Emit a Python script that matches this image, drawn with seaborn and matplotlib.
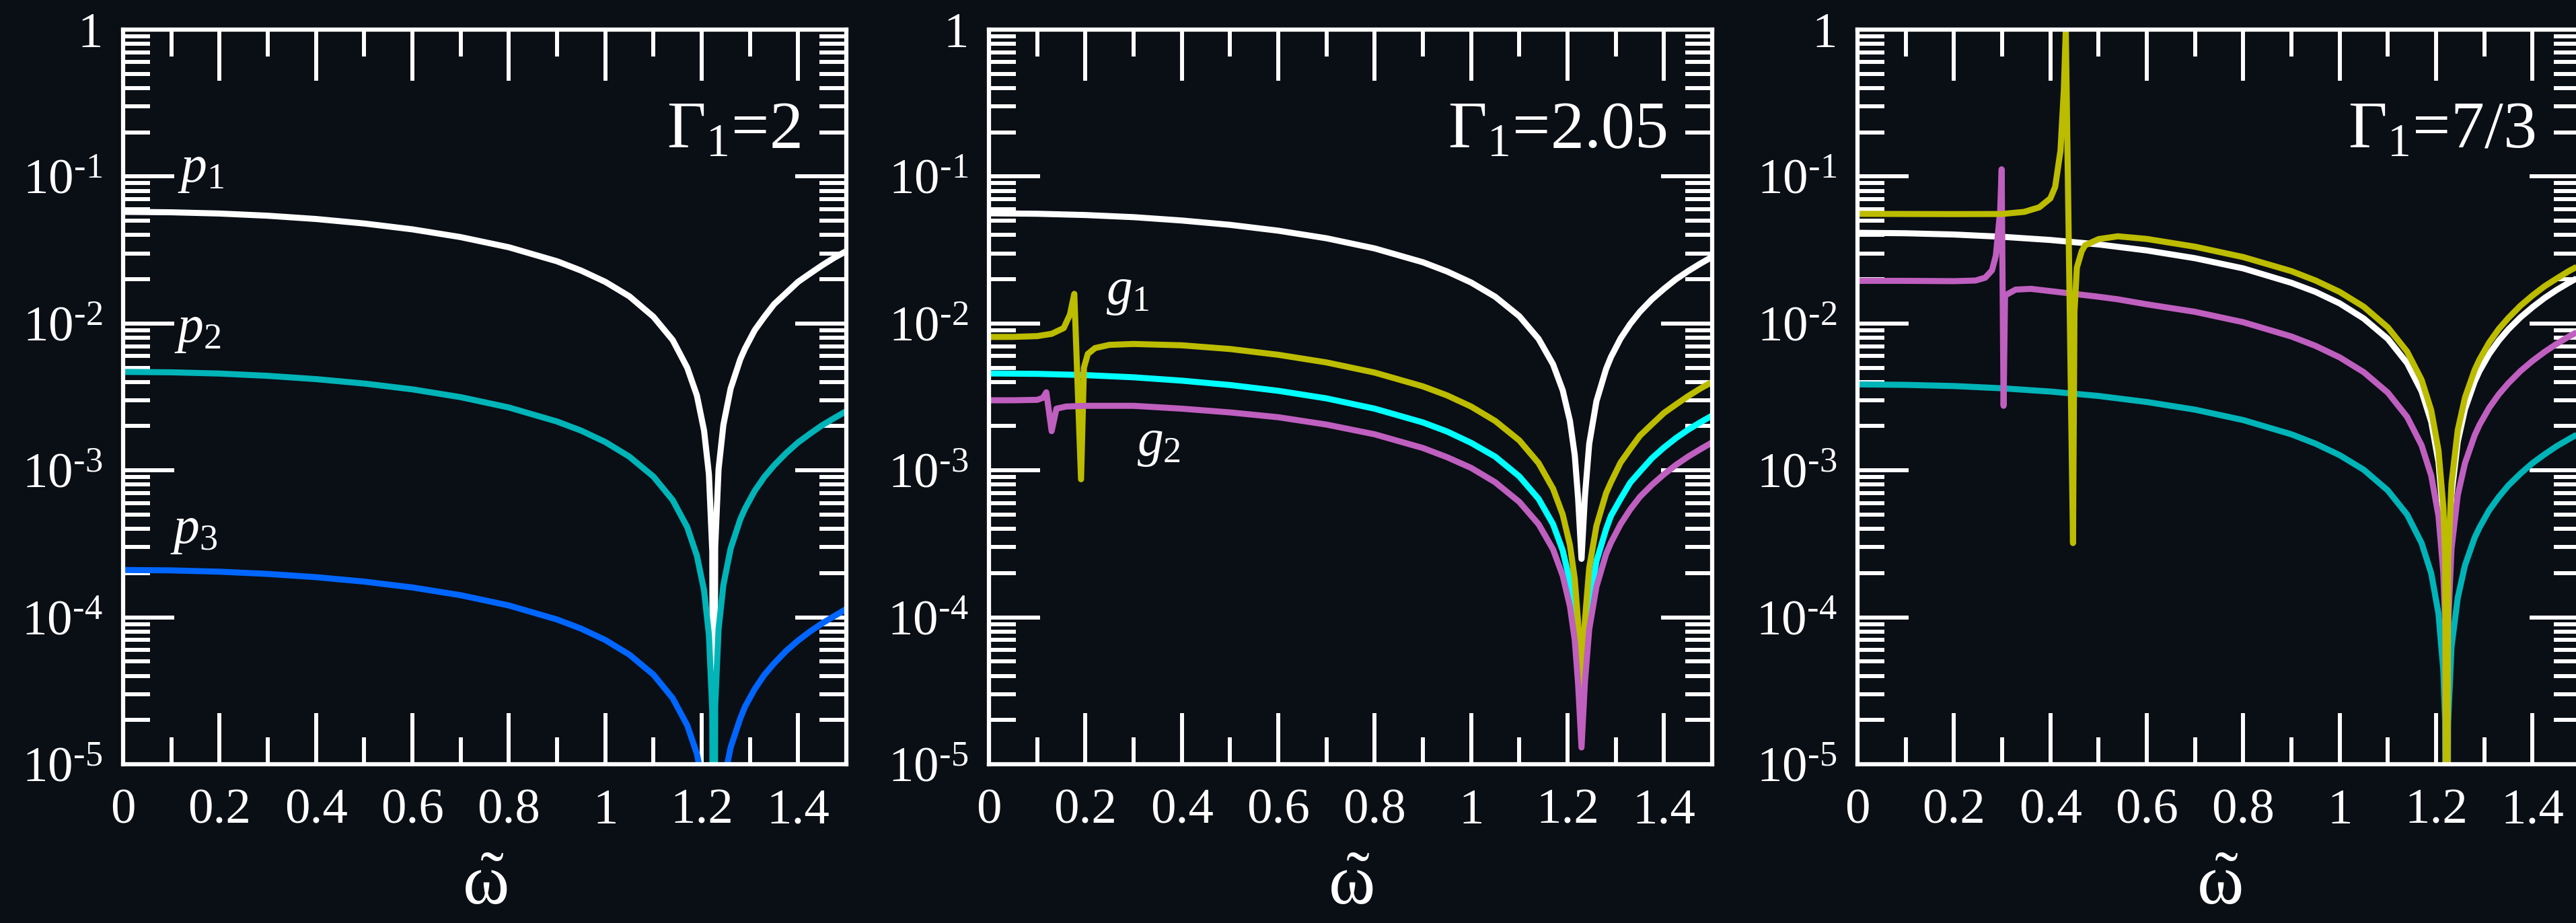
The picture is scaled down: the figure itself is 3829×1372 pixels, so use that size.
import numpy as np
import pandas as pd
import matplotlib
matplotlib.use("Agg")
import matplotlib.pyplot as plt
import seaborn as sns
from matplotlib.ticker import FixedLocator, NullFormatter, LogLocator

# ---------------- data ----------------
# Panel 1 : Gamma_1 = 2
w1 = [0, 0.1, 0.2, 0.3, 0.4, 0.5, 0.6, 0.7, 0.8, 0.9, 0.95, 1.0, 1.05, 1.1, 1.14,
      1.17, 1.19, 1.205, 1.215, 1.222, 1.225, 1.228, 1.235, 1.245, 1.26, 1.28,
      1.29, 1.31, 1.33, 1.35, 1.375, 1.4, 1.425, 1.45, 1.475, 1.5]
p1 = [0.0575, 0.0571, 0.0560, 0.0541, 0.0514, 0.0479, 0.0437, 0.0387, 0.0330,
      0.0265, 0.0229, 0.0192, 0.0153, 0.0111, 0.0077, 0.0050, 0.00324, 0.00186,
      0.00094, 0.00028, 1e-7, 0.00030, 0.00102, 0.00204, 0.0036, 0.0057, 0.00676,
      0.0090, 0.0111, 0.0135, 0.0161, 0.0192, 0.0219, 0.0249, 0.0280, 0.0311]
p2 = [0.00468, 0.00465, 0.00456, 0.00440, 0.00418, 0.00390, 0.00356, 0.00315,
      0.00268, 0.00215, 0.001865, 0.00156, 0.00124, 0.000907, 0.000627, 0.000411,
      0.000263, 0.000152, 7.6e-5, 2.3e-5, 1e-8, 2.5e-5, 8.3e-5, 1.66e-4, 2.93e-4,
      4.64e-4, 5.5e-4, 7.26e-4, 9.03e-4, 1.08e-3, 1.31e-3, 1.55e-3, 1.78e-3,
      2.03e-3, 2.27e-3, 2.53e-3]
p3 = [2.10e-4, 2.086e-4, 2.044e-4, 1.974e-4, 1.876e-4, 1.750e-4, 1.596e-4,
      1.414e-4, 1.204e-4, 9.66e-5, 8.37e-5, 7.01e-5, 5.57e-5, 4.07e-5, 2.81e-5,
      1.84e-5, 1.18e-5, 6.8e-6, 3.4e-6, 1.0e-6, 1e-9, 1.1e-6, 3.7e-6, 7.4e-6,
      1.3e-5, 2.05e-5, 2.47e-5, 3.25e-5, 4.06e-5, 4.85e-5, 5.9e-5, 6.95e-5,
      8.02e-5, 9.1e-5, 1.02e-4, 1.14e-4]

# Panel 2 : Gamma_1 = 2.05
w2 = [0, 0.1, 0.2, 0.3, 0.4, 0.5, 0.6, 0.7, 0.8, 0.9, 0.95, 1.0, 1.05, 1.1, 1.14,
      1.17, 1.19, 1.205, 1.215, 1.222, 1.229, 1.236, 1.245, 1.26, 1.28, 1.29,
      1.31, 1.33, 1.35, 1.375, 1.4, 1.425, 1.45, 1.475, 1.5]
white2 = [0.0562, 0.0558, 0.0547, 0.0529, 0.0502, 0.0469, 0.0428, 0.0380, 0.0324,
          0.0261, 0.0226, 0.0190, 0.0152, 0.0112, 0.00785, 0.00527, 0.00351,
          0.00217, 0.00127, 0.00064, 0.00025, 0.00066, 0.00152, 0.00296, 0.0049,
          0.0059, 0.0079, 0.00992, 0.0120, 0.0146, 0.0172, 0.0200, 0.0227, 0.0255,
          0.0284]
cyan2 = [4.57e-3, 4.54e-3, 4.45e-3, 4.30e-3, 4.08e-3, 3.81e-3, 3.48e-3, 3.09e-3,
         2.63e-3, 2.12e-3, 1.84e-3, 1.54e-3, 1.24e-3, 9.1e-4, 6.4e-4, 4.3e-4,
         2.85e-4, 1.76e-4, 1.03e-4, 5.4e-5, 2.1e-5, 5.5e-5, 1.24e-4, 2.41e-4,
         3.98e-4, 4.9e-4, 6.4e-4, 8.25e-4, 9.8e-4, 1.21e-3, 1.43e-3, 1.66e-3,
         1.89e-3, 2.12e-3, 2.36e-3]
wg1 = [0, 0.05, 0.1, 0.13, 0.155, 0.168, 0.177, 0.191, 0.197, 0.205, 0.22, 0.25,
       0.3, 0.4, 0.5, 0.6, 0.7, 0.8, 0.9, 0.95, 1.0, 1.05, 1.1, 1.14, 1.17, 1.19,
       1.205, 1.215, 1.222, 1.229, 1.236, 1.245, 1.26, 1.28, 1.29, 1.31, 1.33,
       1.35, 1.375, 1.4, 1.425, 1.45, 1.475, 1.5]
g1 = [8.1e-3, 8.1e-3, 8.2e-3, 8.5e-3, 9.3e-3, 0.0115, 0.0159, 8.7e-4, 5.0e-3,
      6.2e-3, 6.8e-3, 7.15e-3, 7.25e-3, 7.1e-3, 6.7e-3, 6.12e-3, 5.43e-3, 4.63e-3,
      3.73e-3, 3.24e-3, 2.72e-3, 2.17e-3, 1.60e-3, 1.12e-3, 7.5e-4, 5.0e-4, 3.1e-4,
      1.82e-4, 9.2e-5, 3.5e-5, 9.4e-5, 2.17e-4, 4.2e-4, 7.0e-4, 8.3e-4, 1.13e-3,
      1.40e-3, 1.72e-3, 2.06e-3, 2.46e-3, 2.81e-3, 3.2e-3, 3.6e-3, 4.0e-3]
wg2 = [0, 0.05, 0.1, 0.112, 0.119, 0.13, 0.14, 0.16, 0.2, 0.3, 0.4, 0.5, 0.6, 0.7,
       0.8, 0.9, 0.95, 1.0, 1.05, 1.1, 1.14, 1.17, 1.19, 1.205, 1.215, 1.222,
       1.229, 1.236, 1.245, 1.26, 1.28, 1.29, 1.31, 1.33, 1.35, 1.375, 1.4, 1.425,
       1.45, 1.475, 1.5]
g2 = [3.0e-3, 3.0e-3, 3.02e-3, 3.12e-3, 3.4e-3, 1.85e-3, 2.63e-3, 2.72e-3, 2.75e-3,
      2.75e-3, 2.63e-3, 2.48e-3, 2.3e-3, 2.05e-3, 1.76e-3, 1.42e-3, 1.23e-3,
      1.04e-3, 8.3e-4, 6.1e-4, 4.3e-4, 2.9e-4, 1.92e-4, 1.19e-4, 7.0e-5, 3.5e-5,
      1.3e-5, 3.6e-5, 8.3e-5, 1.62e-4, 2.7e-4, 3.22e-4, 4.3e-4, 5.42e-4, 6.6e-4,
      7.97e-4, 9.4e-4, 1.09e-3, 1.24e-3, 1.39e-3, 1.55e-3]

# Panel 3 : Gamma_1 = 7/3
w3 = [0, 0.1, 0.2, 0.3, 0.4, 0.5, 0.6, 0.7, 0.8, 0.9, 0.95, 1.0, 1.05, 1.1, 1.14,
      1.17, 1.19, 1.205, 1.215, 1.219, 1.222, 1.225, 1.232, 1.245, 1.26, 1.28,
      1.29, 1.31, 1.33, 1.35, 1.375, 1.4, 1.425, 1.45, 1.475, 1.5]
white3 = [0.0414, 0.0411, 0.0403, 0.0389, 0.0370, 0.0345, 0.0314, 0.0278, 0.0237,
          0.0189, 0.0164, 0.0137, 0.0108, 0.00785, 0.00537, 0.00345, 0.00214,
          0.00114, 0.000473, 0.000204, 1e-7, 0.000203, 0.00068, 0.00157, 0.00261,
          0.00402, 0.00474, 0.00618, 0.00764, 0.00912, 0.0110, 0.0129, 0.0149,
          0.0169, 0.0189, 0.0210]
teal3 = [3.85e-3, 3.82e-3, 3.75e-3, 3.62e-3, 3.44e-3, 3.21e-3, 2.92e-3, 2.59e-3,
         2.20e-3, 1.76e-3, 1.52e-3, 1.27e-3, 1.01e-3, 7.3e-4, 5.0e-4, 3.2e-4,
         1.99e-4, 1.06e-4, 4.4e-5, 1.9e-5, 1e-8, 1.9e-5, 6.3e-5, 1.36e-4, 2.26e-4,
         3.48e-4, 4.08e-4, 5.34e-4, 6.59e-4, 7.9e-4, 9.5e-4, 1.12e-3, 1.285e-3,
         1.46e-3, 1.63e-3, 1.81e-3]
wo3 = [0, 0.1, 0.2, 0.3, 0.346, 0.377, 0.4, 0.41, 0.421, 0.428, 0.432, 0.447, 0.45,
       0.455, 0.465, 0.472, 0.5, 0.54, 0.6, 0.7, 0.8, 0.9, 0.95, 1.0, 1.05, 1.1,
       1.14, 1.17, 1.19, 1.205, 1.215, 1.219, 1.222, 1.225, 1.232, 1.245, 1.26,
       1.28, 1.29, 1.31, 1.33, 1.35, 1.375, 1.4, 1.425, 1.45, 1.475, 1.5]
olive3 = [0.0557, 0.0556, 0.0555, 0.0556, 0.0575, 0.0617, 0.071, 0.085, 0.15, 0.39,
          1.0, 3.2e-4, 0.012, 0.024, 0.031, 0.034, 0.0375, 0.0392, 0.0376, 0.0333,
          0.0283, 0.0227, 0.0196, 0.0164, 0.0130, 0.0094, 0.00643, 0.00413, 0.00256,
          0.00137, 0.000567, 0.000244, 1e-7, 0.000244, 0.000814, 0.00188, 0.00313,
          0.00482, 0.00567, 0.0074, 0.00916, 0.0109, 0.0132, 0.0155, 0.0179, 0.0202,
          0.0227, 0.0251]
wm3 = [0, 0.1, 0.2, 0.245, 0.265, 0.279, 0.287, 0.296, 0.299, 0.303, 0.306, 0.328,
       0.36, 0.4, 0.5, 0.54, 0.6, 0.7, 0.8, 0.9, 0.95, 1.0, 1.05, 1.1, 1.14, 1.17,
       1.19, 1.205, 1.215, 1.219, 1.222, 1.225, 1.232, 1.245, 1.26, 1.28, 1.29,
       1.31, 1.33, 1.35, 1.375, 1.4, 1.425, 1.45, 1.475, 1.5]
mag3 = [0.0195, 0.0195, 0.0194, 0.0196, 0.0205, 0.023, 0.029, 0.059, 0.112, 0.00275,
        0.0155, 0.0170, 0.0172, 0.0166, 0.0152, 0.0146, 0.0135, 0.0120, 0.0102,
        0.00815, 0.00704, 0.00588, 0.00466, 0.00338, 0.00231, 0.00148, 0.00092,
        0.00049, 0.000203, 8.8e-5, 1e-7, 8.7e-5, 2.92e-4, 6.8e-4, 1.12e-3, 1.73e-3,
        2.04e-3, 2.66e-3, 3.29e-3, 3.92e-3, 4.74e-3, 5.56e-3, 6.4e-3, 7.26e-3,
        8.13e-3, 9.0e-3]

x_major = [0, 0.2, 0.4, 0.6, 0.8, 1.0, 1.2, 1.4]
x_labels = ["0", "0.2", "0.4", "0.6", "0.8", "1", "1.2", "1.4"]
x_minor = [0.1, 0.3, 0.5, 0.7, 0.9, 1.1, 1.3, 1.5]
y_major = [1e-5, 1e-4, 1e-3, 1e-2, 1e-1, 1]
y_labels = [r"10$^{\text{-5}}$", r"10$^{\text{-4}}$", r"10$^{\text{-3}}$",
            r"10$^{\text{-2}}$", r"10$^{\text{-1}}$", "1"]
panel_titles = [r"$\Gamma_{1}$=2", r"$\Gamma_{1}$=2.05", r"$\Gamma_{1}$=7/3"]

# ---------------- styling ----------------
BG = "#0a0e15"
C_WHITE = "#ffffff"
C_TEAL = "#00b4b8"
C_BLUE = "#0066ff"
C_OLIVE = "#bcbc00"
C_CYAN = "#00ffff"
C_MAG = "#bf5fbf"

sns.set_theme(style="dark", rc={"axes.facecolor": BG, "figure.facecolor": BG,
                                "axes.grid": False})
plt.rcParams["font.family"] = ["Liberation Serif", "DejaVu Serif"]
plt.rcParams["mathtext.fontset"] = "custom"
plt.rcParams["mathtext.rm"] = "Liberation Serif"
plt.rcParams["mathtext.it"] = "Liberation Serif:italic"
plt.rcParams["mathtext.bf"] = "Liberation Serif:bold"

fig = plt.figure(figsize=(38.3, 13.72), dpi=100, facecolor=BG)
lefts = [183 / 3830, 1470 / 3830, 2761 / 3830]
W, B, H = 1075 / 3830, 236 / 1372, 1092 / 1372
axes = [fig.add_axes([l, B, W, H]) for l in lefts]

LW = 6.5

series = [
    [(w1, p1, C_WHITE), (w1, p2, C_TEAL), (w1, p3, C_BLUE)],
    [(w2, white2, C_WHITE), (w2, cyan2, C_CYAN), (wg1, g1, C_OLIVE), (wg2, g2, C_MAG)],
    [(w3, white3, C_WHITE), (w3, teal3, C_TEAL), (wm3, mag3, C_MAG), (wo3, olive3, C_OLIVE)],
]

for ax, curves, title in zip(axes, series, panel_titles):
    ax.set_facecolor(BG)
    ax.set_yscale("log")
    for xs, ys, col in curves:
        df = pd.DataFrame({"w": xs, "v": ys})
        sns.lineplot(data=df, x="w", y="v", ax=ax, color=col, linewidth=LW,
                     estimator=None, sort=False, legend=False)
    for ln in ax.get_lines():
        ln.set_linewidth(LW)
        ln.set_solid_capstyle("butt")
        ln.set_solid_joinstyle("round")
    ax.set_xlim(0, 1.5)
    ax.set_ylim(1e-5, 1)
    ax.xaxis.set_major_locator(FixedLocator(x_major))
    ax.set_xticklabels(x_labels)
    ax.xaxis.set_minor_locator(FixedLocator(x_minor))
    ax.yaxis.set_major_locator(FixedLocator(y_major))
    ax.set_yticklabels(y_labels)
    ax.yaxis.set_minor_locator(LogLocator(base=10, subs=np.arange(2, 10)))
    ax.yaxis.set_minor_formatter(NullFormatter())
    ax.tick_params(which="both", direction="in", top=True, right=True,
                   bottom=True, left=True, color="white", labelcolor="white",
                   width=4.3)
    ax.tick_params(which="major", length=55, labelsize=54)
    ax.tick_params(which="minor", length=29)
    ax.tick_params(axis="x", which="major", pad=26)
    ax.tick_params(axis="y", which="major", pad=22)
    for sp in ax.spines.values():
        sp.set_color("white")
        sp.set_linewidth(4.5)
        sp.set_visible(True)
    ax.set_xlabel(r"$\tilde{\mathrm{\omega}}$", fontsize=76, color="white", labelpad=22)
    ax.set_ylabel("")
    ax.text(0.937, 0.84, title, transform=ax.transAxes, ha="right", va="baseline",
            fontsize=72, color="white")

# curve labels
lab_kw = dict(fontsize=56, color="white", ha="left", va="baseline")
axes[0].text(0.113, 0.092, r"$p_{\mathit{1}}$", **lab_kw)
axes[0].text(0.106, 0.0075, r"$p_{\mathit{2}}$", **lab_kw)
axes[0].text(0.098, 3.2e-4, r"$p_{\mathit{3}}$", **lab_kw)
axes[1].text(0.243, 0.01355, r"$g_{\mathit{1}}$", **lab_kw)
axes[1].text(0.307, 1.26e-3, r"$g_{\mathit{2}}$", **lab_kw)

fig.savefig("out.png", dpi=100, facecolor=BG)
